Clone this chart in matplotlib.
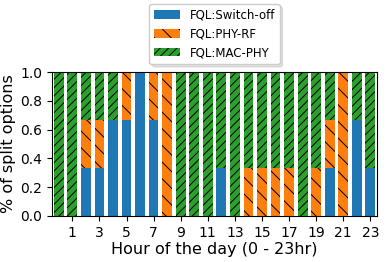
import matplotlib
matplotlib.use('Agg')
import matplotlib.pyplot as plt
import numpy as np

hours = list(range(24))
switch_off = [0, 0, 1/3, 1/3, 2/3, 2/3, 1, 2/3, 0, 0, 0, 0,
              1/3, 0, 0, 0, 0, 0, 0, 0, 1/3, 0, 2/3, 1/3]
phy_rf = [0, 0, 1/3, 1/3, 0, 1/3, 0, 1/3, 1, 0, 0, 0,
          0, 0, 1/3, 1/3, 1/3, 1/3, 0, 1/3, 1/3, 1, 0, 0]
mac_phy = [1, 1, 1/3, 1/3, 1/3, 0, 0, 0, 0, 1, 1, 1,
           2/3, 1, 2/3, 2/3, 2/3, 2/3, 1, 2/3, 1/3, 0, 1/3, 2/3]
xticks = list(range(1, 24, 2))

plt.rcParams['hatch.linewidth'] = 0.7

fig = plt.figure(figsize=(3.88, 2.62), dpi=100)
ax = fig.add_axes([0.134, 0.176, 0.838, 0.549])

s = np.array(switch_off)
p = np.array(phy_rf)
m = np.array(mac_phy)
ax.bar(hours, s, width=0.72, color='tab:blue', label='FQL:Switch-off')
ax.bar(hours, p, width=0.72, bottom=s, color='tab:orange', hatch='\\\\', label='FQL:PHY-RF')
ax.bar(hours, m, width=0.72, bottom=s + p, color='tab:green', hatch='////', label='FQL:MAC-PHY')

ax.set_xlim(-0.5, 23.5)
ax.set_ylim(0, 1)
ax.set_xticks(xticks)
ax.set_yticks([0, 0.2, 0.4, 0.6, 0.8, 1.0])
ax.tick_params(labelsize=10)
ax.set_xlabel('Hour of the day (0 - 23hr)', fontsize=11.5, labelpad=2)
ax.set_ylabel('% of split options', fontsize=11.5, labelpad=3)
ax.legend(loc='lower center', bbox_to_anchor=(0.5, 1.055), fontsize=8.5,
          handlelength=2.2, shadow={'alpha': 0.15}, borderaxespad=0)

fig.savefig('out.png', dpi=100)
